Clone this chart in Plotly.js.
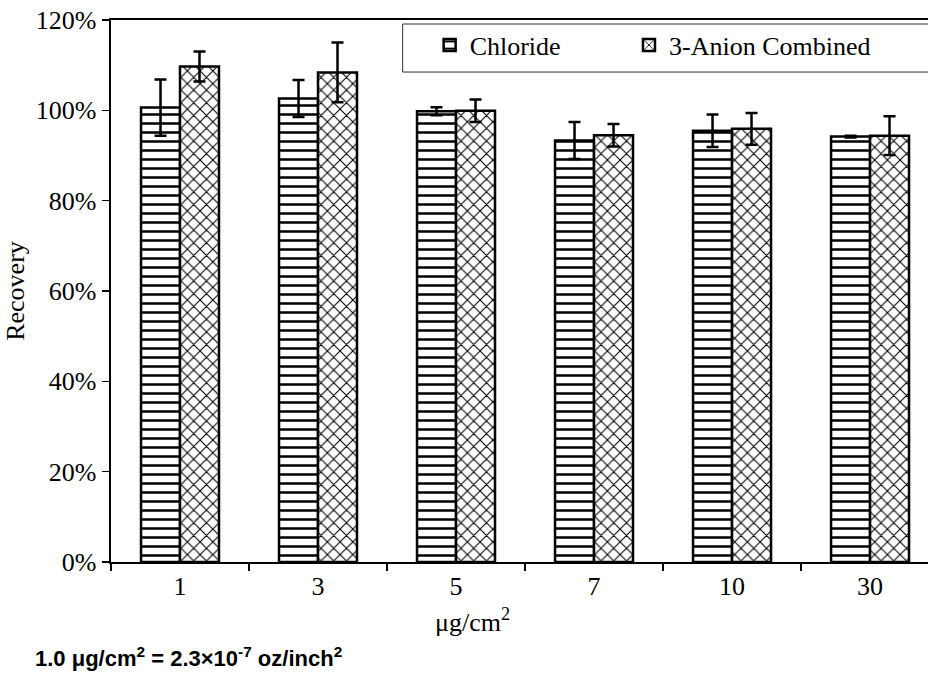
<!DOCTYPE html>
<html>
<head>
<meta charset="utf-8">
<script src="https://cdn.plot.ly/plotly-3.0.1.min.js"></script>
<style>body{margin:0;padding:0;background:#fff;}#chart{width:928px;height:674px;}</style>
</head>
<body>
<div id="chart"></div>
<script>
const categories = ["1", "3", "5", "7", "10", "30"];
const chlorideValues = [1.006, 1.026, 0.998, 0.933, 0.955, 0.942];
const chlorideErrors = [0.062, 0.041, 0.009, 0.041, 0.036, 0.002];
const anionValues = [1.097, 1.084, 0.999, 0.945, 0.959, 0.944];
const anionErrors = [0.033, 0.066, 0.025, 0.025, 0.035, 0.043];
const seriesNames = ["Chloride", "3-Anion Combined"];

const serif = "Liberation Serif";
const fs = 26;

const traces = [
  {
    type: "bar", name: seriesNames[0], x: categories, y: chlorideValues, legend: "legend",
    error_y: {type: "data", array: chlorideErrors, visible: true, color: "#000", thickness: 2.5, width: 6},
    marker: {color: "#fff", line: {color: "#000", width: 2.5},
      pattern: {shape: "-", fgcolor: "#000", bgcolor: "#fff", size: 9, solidity: 0.28}}
  },
  {
    type: "bar", name: seriesNames[1], x: categories, y: anionValues, legend: "legend2",
    error_y: {type: "data", array: anionErrors, visible: true, color: "#000", thickness: 2.5, width: 6},
    marker: {color: "#fff", line: {color: "#000", width: 2.5},
      pattern: {shape: "x", fgcolor: "#000", bgcolor: "#fff", size: 9, solidity: 0.22}}
  }
];

const legendCommon = {orientation: "h", xanchor: "left", y: 0.997, yanchor: "top",
  font: {family: serif, size: fs, color: "#000"}, bgcolor: "rgba(0,0,0,0)", borderwidth: 0, itemwidth: 30};

const layout = {
  width: 928, height: 674,
  margin: {l: 111, r: 0, t: 20, b: 112},
  paper_bgcolor: "#fff", plot_bgcolor: "#fff",
  barmode: "group", bargap: 0.435, bargroupgap: 0,
  font: {family: serif, size: fs, color: "#000"},
  showlegend: true,
  legend: Object.assign({}, legendCommon, {x: 0.39}),
  legend2: Object.assign({}, legendCommon, {x: 0.634}),
  xaxis: {type: "category", range: [-0.5, 5.42], showline: true, linecolor: "#000", linewidth: 2,
    mirror: true, ticks: "outside", tickson: "boundaries", ticklen: 7, tickcolor: "#000", tickwidth: 1.5,
    showgrid: false, zeroline: false, tickfont: {family: serif, size: fs, color: "#000"}},
  yaxis: {range: [0, 1.2], dtick: 0.2, tickformat: ".0%", showline: true, linecolor: "#000", linewidth: 2.5,
    ticks: "outside", ticklen: 7, tickcolor: "#000", tickwidth: 1.5, showgrid: false, zeroline: false,
    tickfont: {family: serif, size: fs, color: "#000"},
    title: {text: "Recovery", font: {family: serif, size: fs, color: "#000"}, standoff: 4}},
  shapes: [
    {type: "rect", xref: "paper", yref: "paper", x0: 0.357, x1: 1.02, y0: 0.904, y1: 0.9926,
      line: {color: "#333", width: 1}, fillcolor: "rgba(0,0,0,0)"}
  ],
  annotations: [
    {text: "μg/cm<sup>2</sup>", xref: "paper", yref: "paper", x: 0.443, y: -0.108, xanchor: "center", yanchor: "middle",
      showarrow: false, font: {family: serif, size: fs, color: "#000"}},
    {text: "<b>1.0 μg/cm<sup>2</sup> = 2.3×10<sup>-7</sup> oz/inch<sup>2</sup></b>", xref: "paper", yref: "paper",
      x: -0.0955, y: -0.175, xanchor: "left", yanchor: "middle", showarrow: false,
      font: {family: "Liberation Sans", size: 22, color: "#000"}}
  ]
};

Plotly.newPlot("chart", traces, layout, {displayModeBar: false, staticPlot: true});
</script>
</body>
</html>
